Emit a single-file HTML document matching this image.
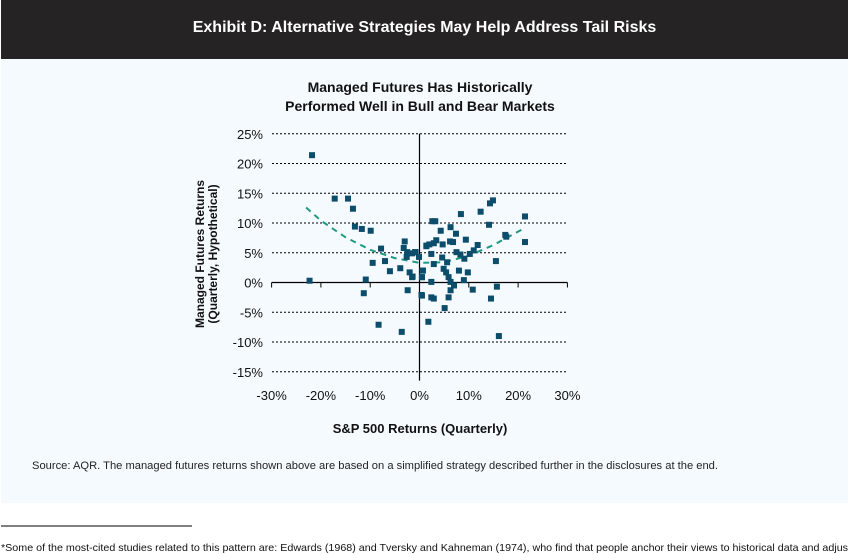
<!DOCTYPE html>
<html><head><meta charset="utf-8"><style>
body{margin:0;width:848px;height:554px;overflow:hidden;background:#fff;font-family:"Liberation Sans",Arial,sans-serif;position:relative}
.hdr{position:absolute;left:1px;top:0;width:847px;height:59px;background:#252324;color:#fff;font-weight:bold;font-size:16px;text-align:center;line-height:56px}
.bg{position:absolute;left:1px;top:59px;width:847px;height:444px;background:#f5faff}
</style></head><body>
<div class="hdr">Exhibit D: Alternative Strategies May Help Address Tail Risks</div>
<div class="bg"></div>
<svg width="848" height="554" style="position:absolute;left:0;top:0">
<g id="grid"></g><g id="axes"></g><g id="trend"></g><g id="pts"></g>
<text x="420" y="92" text-anchor="middle" font-size="14" font-weight="bold" fill="#111">Managed Futures Has Historically</text>
<text x="420" y="111" text-anchor="middle" font-size="14" font-weight="bold" fill="#111">Performed Well in Bull and Bear Markets</text>
<text x="420" y="433" text-anchor="middle" font-size="13" font-weight="bold" fill="#111">S&amp;P 500 Returns (Quarterly)</text>
<text transform="translate(204,254) rotate(-90)" text-anchor="middle" font-size="12" font-weight="bold" fill="#111">Managed Futures Returns</text>
<text transform="translate(217,254) rotate(-90)" text-anchor="middle" font-size="12" font-weight="bold" fill="#111">(Quarterly, Hypothetical)</text>
<text x="32" y="469" font-size="11" fill="#222" textLength="686" lengthAdjust="spacingAndGlyphs">Source: AQR. The managed futures returns shown above are based on a simplified strategy described further in the disclosures at the end.</text>
<line x1="1" y1="526" x2="192" y2="526" stroke="#000" stroke-width="1"/>
<text x="1" y="551" font-size="10.5" fill="#111" textLength="850" lengthAdjust="spacingAndGlyphs">*Some of the most-cited studies related to this pattern are: Edwards (1968) and Tversky and Kahneman (1974), who find that people anchor their views to historical data and adjust</text>
</svg>
<script>
const xTicks=[-30,-20,-10,0,10,20,30];
const yTicks=[25,20,15,10,5,0,-5,-10,-15];
const spX=[-21.8,-17.2,-14.5,-13.5,-13.1,-11.7,-9.9,-7.8,-9.5,-7.0,-6.0,-10.9,-22.3,-11.3,-8.3,-3.6,-2.4,-3.0,-3.2,-2.5,-2.6,-1.5,-0.8,-0.1,-2.0,-1.4,-3.9,0.6,0.5,1.4,0.4,1.8,-0.9,1.4,2.0,2.9,3.4,2.6,3.2,4.3,4.7,6.2,6.8,6.3,7.4,8.4,9.4,12.4,14.3,14.9,14.1,17.4,17.6,21.4,21.4,11.8,11.0,10.2,9.1,7.5,8.3,2.4,2.9,4.6,5.6,4.9,5.4,5.9,6.3,7.0,8.0,9.8,9.0,10.8,15.5,15.7,14.5,16.1,6.3,5.9,5.1,2.4,0.5,2.4,2.9,0.7,0.5,-1.5];
const mfY=[21.4,14.1,14.1,12.4,9.4,9.0,8.7,5.7,3.3,3.6,1.9,0.5,0.3,-1.8,-7.1,-8.3,-1.3,6.9,5.8,5.1,4.3,4.9,5.1,4.3,1.7,1.0,2.4,2.0,0.9,6.1,-2.1,-6.6,5.1,6.2,6.4,6.6,7.1,10.3,10.3,8.7,6.4,6.9,6.8,9.3,8.2,11.5,7.2,11.9,13.3,13.8,9.7,8.0,7.7,11.1,6.8,6.3,5.4,4.8,4.0,5.1,4.7,4.8,3.1,4.2,3.4,2.3,1.7,0.9,0.1,-0.5,2.0,1.7,0.4,-1.2,3.6,-0.7,-2.7,-9.0,-1.3,-2.5,-4.3,0.1,-2.2,-2.5,-2.7,2.0,0.9,0.9];
const trendX=[-23,-20,-15,-10,-5,0,5,10,15,21];
const trendY=[12.6,10.4,7.6,5.5,4.1,3.3,3.4,4.5,6.3,9.0];
const NS='http://www.w3.org/2000/svg';
const X=v=>419.5+v*4.93, Y=v=>282.5-v*5.95;
function mk(t,a,p){const e=document.createElementNS(NS,t);for(const k in a)e.setAttribute(k,a[k]);document.getElementById(p).appendChild(e);return e;}
yTicks.forEach(v=>{
 if(v!==0){const g=mk('line',{x1:272,x2:566,y1:Y(v),y2:Y(v),stroke:'#000','stroke-width':1,'stroke-dasharray':'2,2'},'grid');
 
 }
 const t=mk('text',{x:263,y:Y(v)+5,'text-anchor':'end','font-size':13,fill:'#111'},'axes');t.textContent=v+'%';
 
 
});
xTicks.forEach(v=>{
 const l=mk('line',{x1:X(v),x2:X(v),y1:Y(0),y2:Y(0)+5,stroke:'#000'},'axes');
 
 
 const t=mk('text',{x:X(v),y:400,'text-anchor':'middle','font-size':13,fill:'#111'},'axes');t.textContent=v+'%';
 
 
});
const xa=mk('line',{x1:X(-30),x2:X(30),y1:Y(0),y2:Y(0),stroke:'#000','stroke-width':1.2},'axes');


const ya=mk('line',{x1:X(0),x2:X(0),y1:Y(25),y2:Y(-16.5),stroke:'#000','stroke-width':1.2},'axes');


const tp=mk('polyline',{points:trendX.map((v,i)=>X(v)+','+Y(trendY[i])).join(' '),fill:'none',stroke:'#1f9a82','stroke-width':2,'stroke-dasharray':'6,5'},'trend');


spX.forEach((v,i)=>{
 const r=mk('rect',{x:X(v)-3,y:Y(mfY[i])-3,width:6,height:6,fill:'#0c4d6b'},'pts');
 
 
});
</script>
</body></html>
